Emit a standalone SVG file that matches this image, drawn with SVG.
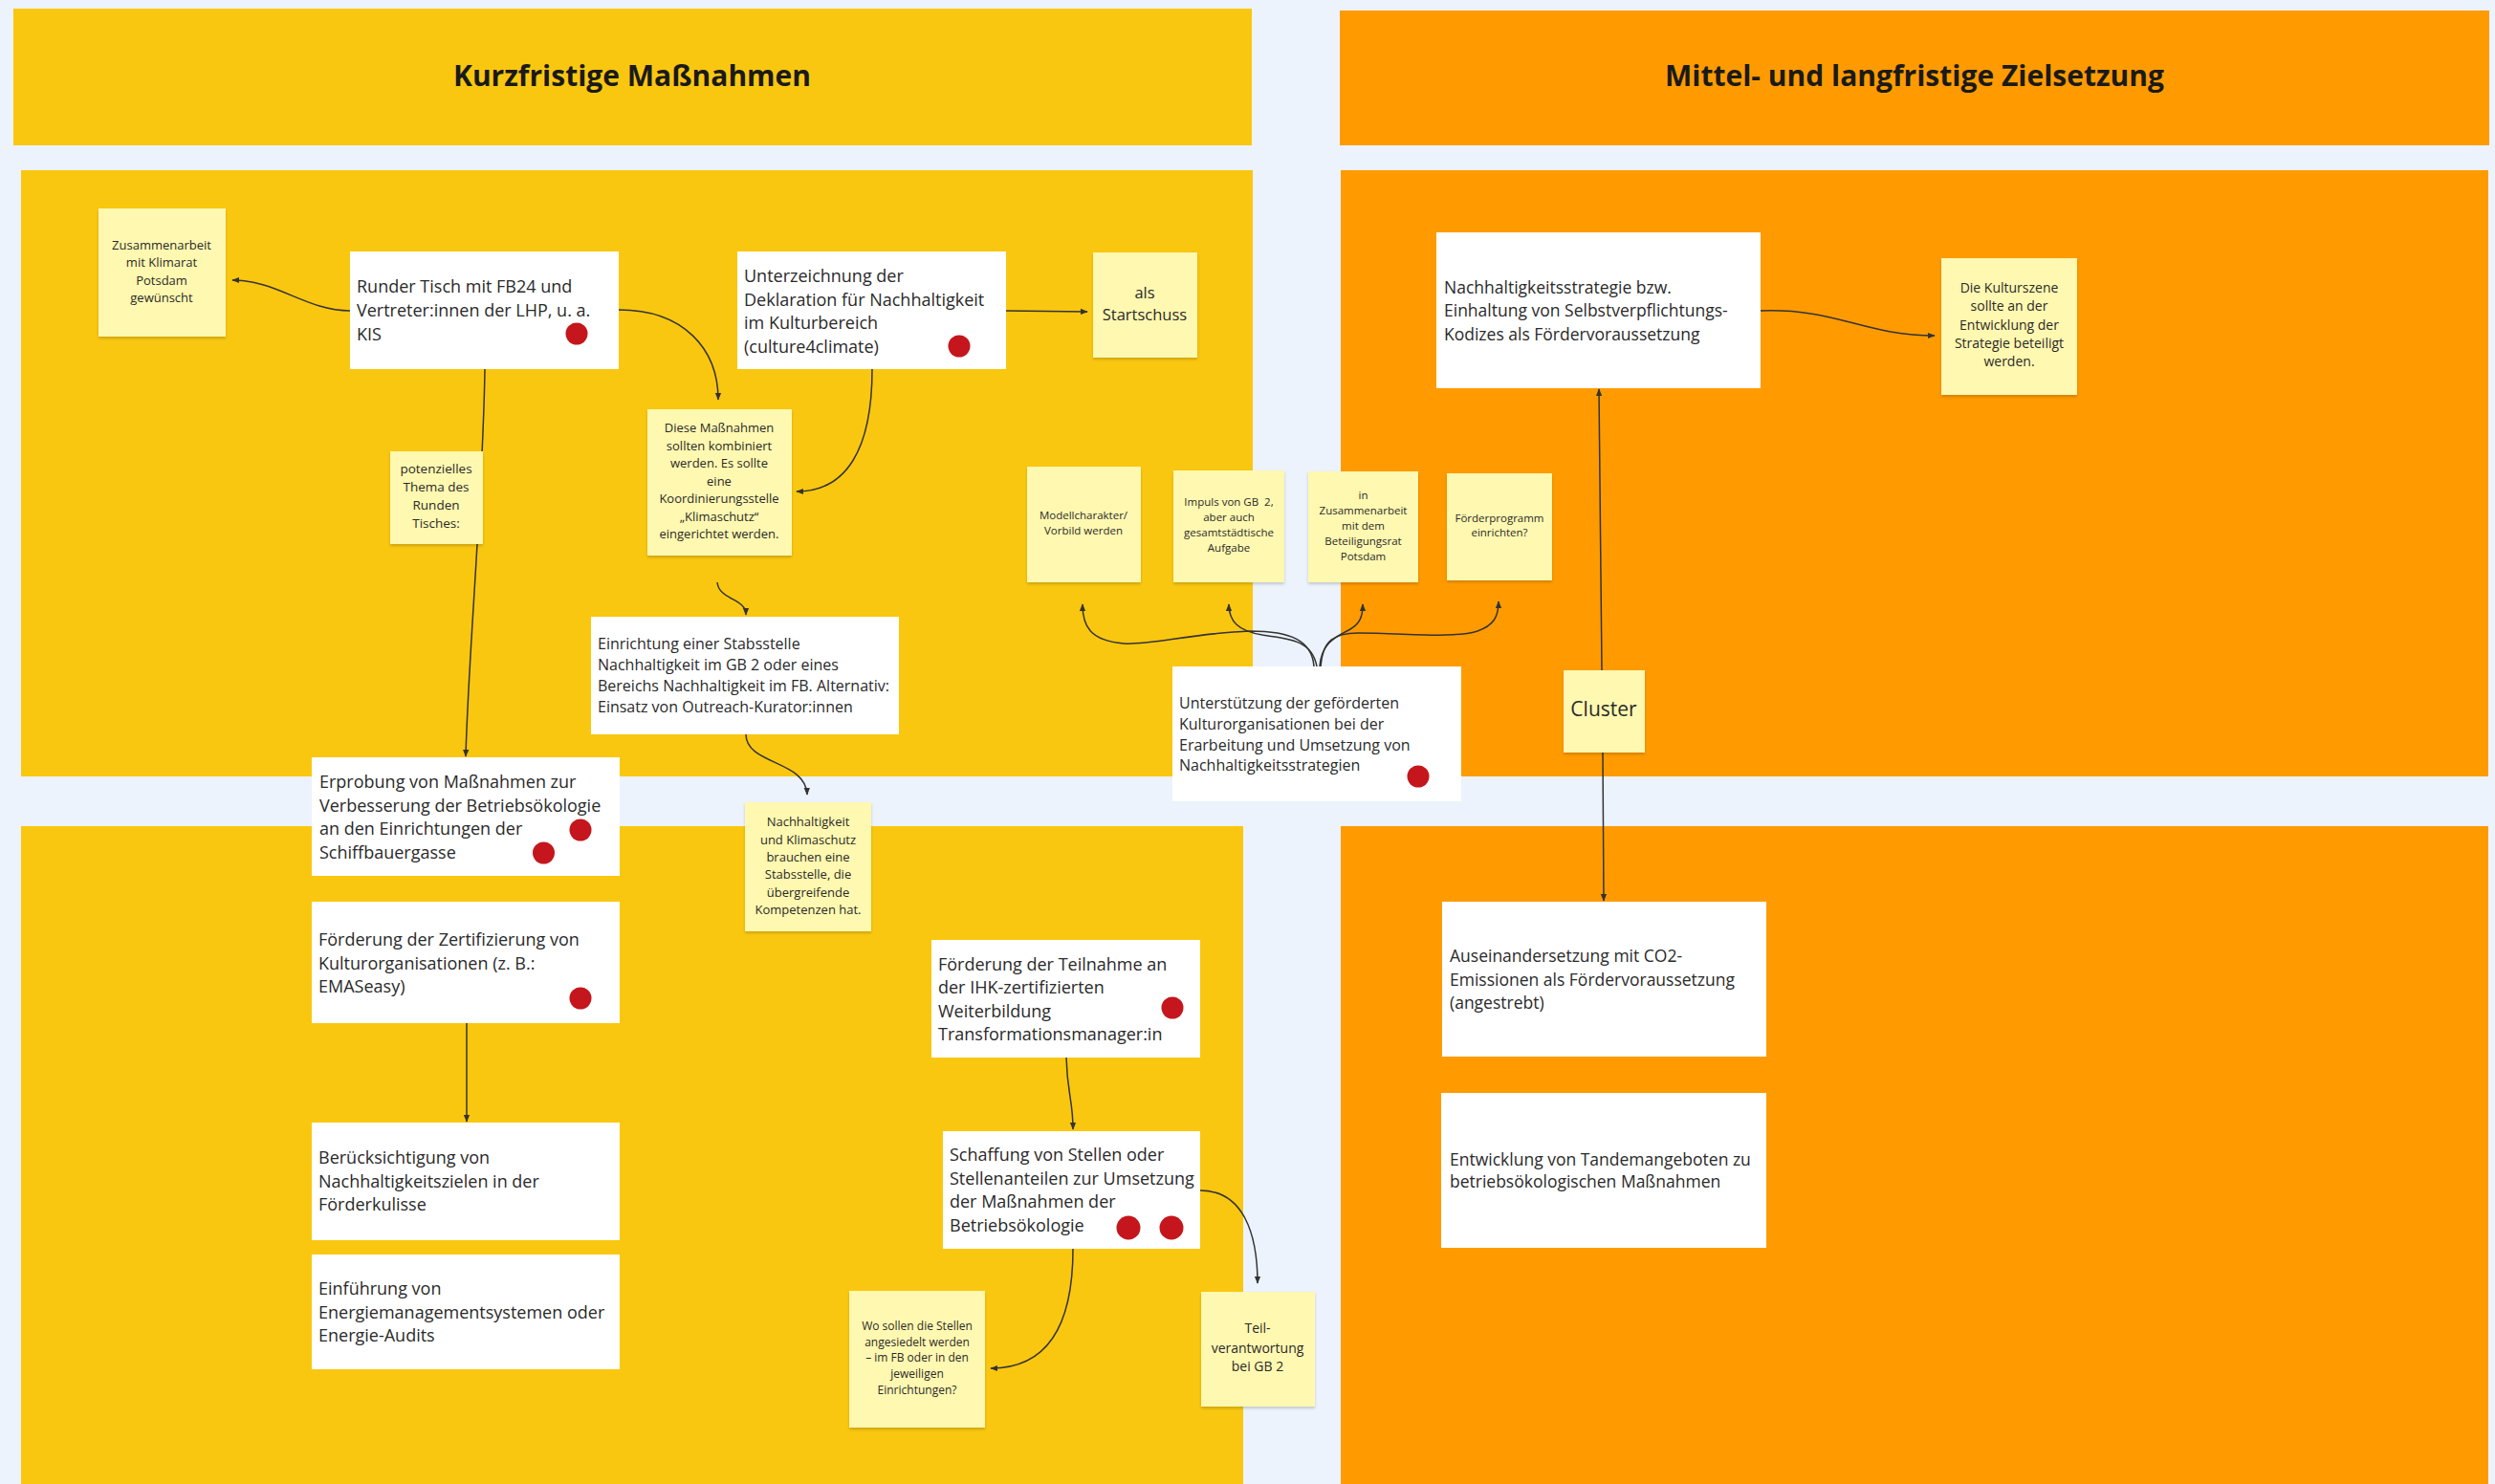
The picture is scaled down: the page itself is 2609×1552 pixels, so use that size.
<svg xmlns="http://www.w3.org/2000/svg" width="2609" height="1552" viewBox="0 0 2609 1552">
<defs>
<style>
.bg{fill:#ECF3FD}
.py{fill:#FAC710}
.po{fill:#FF9B00}
.hdr{font-family:"Open Sans","Noto Sans","Liberation Sans",sans-serif;font-weight:700;font-size:30px;fill:#1a1a1a;text-anchor:middle}
.card{fill:#ffffff}
.st{fill:#FFF8B0;filter:url(#sh)}
.t{font-family:"Open Sans","Noto Sans","Liberation Sans",sans-serif;fill:#2a2a2a}
.f18{font-size:18px}
.f175{font-size:17.5px}
.f16{font-size:16px}
.sn{font-family:"Open Sans","Noto Sans","Liberation Sans",sans-serif;fill:#2a2a2a;text-anchor:middle}
.dot{fill:#C4161C}
.conn path{fill:none;stroke:#333333;stroke-width:1.5;marker-end:url(#ah)}
</style>
<filter id="sh" x="-10%" y="-10%" width="120%" height="125%">
<feDropShadow dx="0" dy="2" stdDeviation="1.5" flood-color="#000" flood-opacity="0.18"/>
</filter>
<marker id="ah" viewBox="0 0 10 10" refX="9" refY="5" markerWidth="8" markerHeight="8" markerUnits="userSpaceOnUse" orient="auto">
<path d="M0,1 L10,5 L0,9 z" fill="#333333"/>
</marker>
</defs>
<rect class="bg" x="0" y="0" width="2609" height="1552"/>
<g id="panels">
<rect class="py" x="14" y="9" width="1295" height="143"/>
<rect class="po" x="1401" y="11" width="1202" height="141"/>
<rect class="py" x="22" y="178" width="1288" height="634"/>
<rect class="po" x="1402" y="178" width="1200" height="634"/>
<rect class="py" x="22" y="864" width="1278" height="688"/>
<rect class="po" x="1402" y="864" width="1200" height="688"/>
<text class="hdr" x="661" y="90">Kurzfristige Maßnahmen</text>
<text class="hdr" x="2002" y="90">Mittel- und langfristige Zielsetzung</text>
</g>
<g id="connectors" class="conn">
<path d="M366,325 C320,325 290,293 243,293"/>
<path d="M647,324 C715,324 751,365 751,418"/>
<path d="M507,386 C505,520 490,680 487,791"/>
<path d="M1052,325 L1137,326"/>
<path d="M912,386 C912,470 885,514 833,514"/>
<path d="M750,609 C752,628 780,625 780,643"/>
<path d="M780,768 C780,800 843,795 844,831"/>
<path d="M488,1070 L488,1173"/>
<path d="M1115,1106 C1116,1145 1122,1150 1122,1181"/>
<path d="M1255,1245 C1300,1245 1315,1290 1315,1342"/>
<path d="M1122,1306 C1122,1400 1085,1431 1036,1431"/>
<path d="M1374,697 C1372,670 1350,660 1307,660 C1250,662 1200,675 1175,673 C1140,670 1132,655 1132,632"/>
<path d="M1377,697 C1372,670 1350,668 1320,664 C1295,660 1285,650 1285,632"/>
<path d="M1380,697 C1382,670 1400,665 1412,658 C1422,652 1425,645 1425,632"/>
<path d="M1381,697 C1383,670 1395,662 1420,662 C1470,662 1520,668 1545,660 C1562,654 1567,645 1567,629"/>
<path d="M1841,325 C1920,322 1950,351 2023,351"/>
<path d="M1675,701 L1672,407"/>
<path d="M1676,787 L1677,942"/>
</g>
<g id="n-klimarat">
<rect class="st" x="103" y="218" width="133" height="134"/>
<text class="sn" font-size="13"><tspan x="169" y="260.5">Zusammenarbeit</tspan><tspan x="169" y="279">mit Klimarat</tspan><tspan x="169" y="297.5">Potsdam</tspan><tspan x="169" y="316">gewünscht</tspan></text>
</g>
<g id="n-runder-tisch">
<rect class="card" x="366" y="263" width="281" height="123"/>
<text class="t f18"><tspan x="373" y="306">Runder Tisch mit FB24 und</tspan><tspan x="373" y="331">Vertreter:innen der LHP, u. a.</tspan><tspan x="373" y="356">KIS</tspan></text>
<circle class="dot" cx="603" cy="349" r="11.5"/>
</g>
<g id="n-unterzeichnung">
<rect class="card" x="771" y="263" width="281" height="123"/>
<text class="t f18"><tspan x="778" y="295">Unterzeichnung der</tspan><tspan x="778" y="319.5">Deklaration für Nachhaltigkeit</tspan><tspan x="778" y="344">im Kulturbereich</tspan><tspan x="778" y="368.5">(culture4climate)</tspan></text>
<circle class="dot" cx="1003" cy="362" r="11.5"/>
</g>
<g id="n-startschuss">
<rect class="st" x="1143" y="264" width="109" height="110"/>
<text class="sn" font-size="16.5"><tspan x="1197" y="312">als</tspan><tspan x="1197" y="335">Startschuss</tspan></text>
</g>
<g id="n-diese-massnahmen">
<rect class="st" x="677" y="428" width="151" height="153"/>
<text class="sn" font-size="13"><tspan x="752" y="452">Diese Maßnahmen</tspan><tspan x="752" y="470.5">sollten kombiniert</tspan><tspan x="752" y="489">werden. Es sollte</tspan><tspan x="752" y="507.5">eine</tspan><tspan x="752" y="526">Koordinierungsstelle</tspan><tspan x="752" y="544.5">„Klimaschutz“</tspan><tspan x="752" y="563">eingerichtet werden.</tspan></text>
</g>
<g id="n-potenzielles">
<rect class="st" x="408" y="472" width="97" height="97"/>
<text class="sn" font-size="13.5"><tspan x="456" y="495">potenzielles</tspan><tspan x="456" y="514">Thema des</tspan><tspan x="456" y="533">Runden</tspan><tspan x="456" y="552">Tisches:</tspan></text>
</g>
<g id="n-einrichtung">
<rect class="card" x="618" y="645" width="322" height="123"/>
<text class="t f16"><tspan x="625" y="678.5">Einrichtung einer Stabsstelle</tspan><tspan x="625" y="700.8">Nachhaltigkeit im GB 2 oder eines</tspan><tspan x="625" y="723.1">Bereichs Nachhaltigkeit im FB. Alternativ:</tspan><tspan x="625" y="745.4">Einsatz von Outreach-Kurator:innen</tspan></text>
</g>
<g id="n-erprobung">
<rect class="card" x="326" y="792" width="322" height="124"/>
<text class="t f18"><tspan x="334" y="824">Erprobung von Maßnahmen zur</tspan><tspan x="334" y="848.7">Verbesserung der Betriebsökologie</tspan><tspan x="334" y="873.3">an den Einrichtungen der</tspan><tspan x="334" y="898">Schiffbauergasse</tspan></text>
<circle class="dot" cx="607" cy="868" r="11.5"/>
<circle class="dot" cx="568.5" cy="892" r="11.5"/>
</g>
<g id="n-stabsstelle">
<rect class="st" x="779" y="839" width="132" height="135"/>
<text class="sn" font-size="13"><tspan x="845" y="864">Nachhaltigkeit</tspan><tspan x="845" y="882.5">und Klimaschutz</tspan><tspan x="845" y="901">brauchen eine</tspan><tspan x="845" y="919">Stabsstelle, die</tspan><tspan x="845" y="937.5">übergreifende</tspan><tspan x="845" y="956">Kompetenzen hat.</tspan></text>
</g>
<g id="n-zertifizierung">
<rect class="card" x="326" y="943" width="322" height="127"/>
<text class="t f18"><tspan x="333" y="989">Förderung der Zertifizierung von</tspan><tspan x="333" y="1014">Kulturorganisationen (z. B.:</tspan><tspan x="333" y="1038">EMASeasy)</tspan></text>
<circle class="dot" cx="607" cy="1044" r="11.5"/>
</g>
<g id="n-beruecksichtigung">
<rect class="card" x="326" y="1174" width="322" height="123"/>
<text class="t f18"><tspan x="333" y="1217">Berücksichtigung von</tspan><tspan x="333" y="1242">Nachhaltigkeitszielen in der</tspan><tspan x="333" y="1266">Förderkulisse</tspan></text>
</g>
<g id="n-einfuehrung">
<rect class="card" x="326" y="1312" width="322" height="120"/>
<text class="t f18"><tspan x="333" y="1354">Einführung von</tspan><tspan x="333" y="1378.5">Energiemanagementsystemen oder</tspan><tspan x="333" y="1402.5">Energie-Audits</tspan></text>
</g>
<g id="n-teilnahme">
<rect class="card" x="974" y="983" width="281" height="123"/>
<text class="t f18"><tspan x="981" y="1015">Förderung der Teilnahme an</tspan><tspan x="981" y="1039">der IHK-zertifizierten</tspan><tspan x="981" y="1064">Weiterbildung</tspan><tspan x="981" y="1088">Transformationsmanager:in</tspan></text>
<circle class="dot" cx="1226" cy="1054" r="11.5"/>
</g>
<g id="n-schaffung">
<rect class="card" x="986" y="1183" width="269" height="123"/>
<text class="t f18"><tspan x="993" y="1214">Schaffung von Stellen oder</tspan><tspan x="993" y="1239">Stellenanteilen zur Umsetzung</tspan><tspan x="993" y="1263">der Maßnahmen der</tspan><tspan x="993" y="1288">Betriebsökologie</tspan></text>
<circle class="dot" cx="1180" cy="1284" r="12.5"/>
<circle class="dot" cx="1225" cy="1284" r="12.5"/>
</g>
<g id="n-wo-sollen">
<rect class="st" x="888" y="1350" width="142" height="143"/>
<text class="sn" font-size="12"><tspan x="959" y="1390.5">Wo sollen die Stellen</tspan><tspan x="959" y="1407.5">angesiedelt werden</tspan><tspan x="959" y="1424">– im FB oder in den</tspan><tspan x="959" y="1441">jeweiligen</tspan><tspan x="959" y="1458">Einrichtungen?</tspan></text>
</g>
<g id="n-teilverantwortung">
<rect class="st" x="1256" y="1351" width="119" height="120"/>
<text class="sn" font-size="14"><tspan x="1315" y="1394">Teil-</tspan><tspan x="1315" y="1414.5">verantwortung</tspan><tspan x="1315" y="1434">bei GB 2</tspan></text>
</g>
<g id="n-modellcharakter">
<rect class="st" x="1074" y="488" width="119" height="121"/>
<text class="sn" font-size="11.5"><tspan x="1133" y="543">Modellcharakter/</tspan><tspan x="1133" y="559">Vorbild werden</tspan></text>
</g>
<g id="n-impuls">
<rect class="st" x="1227" y="492" width="116" height="117"/>
<text class="sn" font-size="11.5"><tspan x="1285" y="529">Impuls von GB&#160; 2,</tspan><tspan x="1285" y="545">aber auch</tspan><tspan x="1285" y="561">gesamtstädtische</tspan><tspan x="1285" y="577">Aufgabe</tspan></text>
</g>
<g id="n-beteiligungsrat">
<rect class="st" x="1368" y="493" width="115" height="116"/>
<text class="sn" font-size="11.5"><tspan x="1425.5" y="522">in</tspan><tspan x="1425.5" y="538">Zusammenarbeit</tspan><tspan x="1425.5" y="554">mit dem</tspan><tspan x="1425.5" y="570">Beteiligungsrat</tspan><tspan x="1425.5" y="585.5">Potsdam</tspan></text>
</g>
<g id="n-foerderprogramm">
<rect class="st" x="1513" y="495" width="110" height="112"/>
<text class="sn" font-size="11.5"><tspan x="1568" y="546">Förderprogramm</tspan><tspan x="1568" y="561">einrichten?</tspan></text>
</g>
<g id="n-unterstuetzung">
<rect class="card" x="1226" y="697" width="302" height="141"/>
<text class="t f16"><tspan x="1233" y="741">Unterstützung der geförderten</tspan><tspan x="1233" y="763">Kulturorganisationen bei der</tspan><tspan x="1233" y="784.5">Erarbeitung und Umsetzung von</tspan><tspan x="1233" y="806">Nachhaltigkeitsstrategien</tspan></text>
<circle class="dot" cx="1483" cy="812" r="11.5"/>
</g>
<g id="n-strategie">
<rect class="card" x="1502" y="243" width="339" height="163"/>
<text class="t f175"><tspan x="1510" y="306.5">Nachhaltigkeitsstrategie bzw.</tspan><tspan x="1510" y="331">Einhaltung von Selbstverpflichtungs-</tspan><tspan x="1510" y="355.5">Kodizes als Fördervoraussetzung</tspan></text>
</g>
<g id="n-kulturszene">
<rect class="st" x="2030" y="270" width="142" height="143"/>
<text class="sn" font-size="14"><tspan x="2101" y="306">Die Kulturszene</tspan><tspan x="2101" y="325">sollte an der</tspan><tspan x="2101" y="344.5">Entwicklung der</tspan><tspan x="2101" y="364">Strategie beteiligt</tspan><tspan x="2101" y="383">werden.</tspan></text>
</g>
<g id="n-cluster">
<rect class="st" x="1635" y="701" width="85" height="86"/>
<text class="sn" font-size="21" x="1677" y="749">Cluster</text>
</g>
<g id="n-co2">
<rect class="card" x="1508" y="943" width="339" height="162"/>
<text class="t f175"><tspan x="1516" y="1006">Auseinandersetzung mit CO2-</tspan><tspan x="1516" y="1030.5">Emissionen als Fördervoraussetzung</tspan><tspan x="1516" y="1055">(angestrebt)</tspan></text>
</g>
<g id="n-tandem">
<rect class="card" x="1507" y="1143" width="340" height="162"/>
<text class="t f175"><tspan x="1516" y="1218.5">Entwicklung von Tandemangeboten zu</tspan><tspan x="1516" y="1242">betriebsökologischen Maßnahmen</tspan></text>
</g>
</svg>
